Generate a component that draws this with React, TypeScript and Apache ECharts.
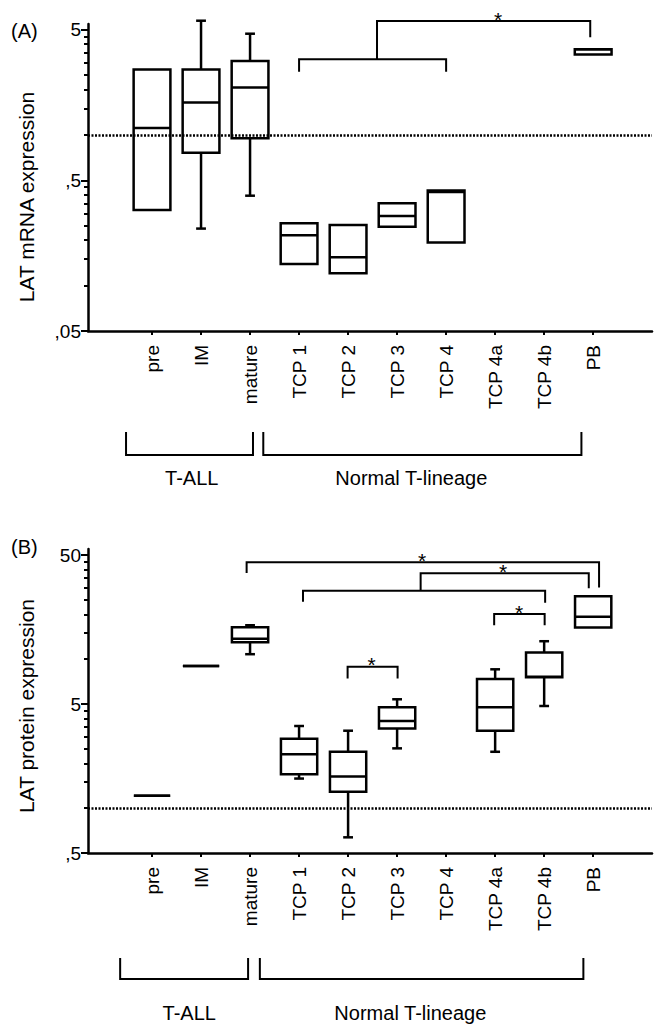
import React, { useEffect, useRef } from 'react';
import * as echarts from 'echarts';

// ---------------- DATA ----------------
const categories = ['pre', 'IM', 'mature', 'TCP 1', 'TCP 2', 'TCP 3', 'TCP 4', 'TCP 4a', 'TCP 4b', 'PB'];

// Panel A: LAT mRNA expression (five-number summaries, null = no data)
const mrnaMin = [0.318, 0.239, 0.395, 0.139, 0.121, 0.246, 0.193, null, null, 3.42];
const mrnaQ1 = [0.318, 0.762, 0.949, 0.139, 0.121, 0.246, 0.193, null, null, 3.42];
const mrnaMedian = [1.11, 1.64, 2.06, 0.216, 0.154, 0.29, 0.418, null, null, 3.7];
const mrnaQ3 = [2.72, 2.72, 3.09, 0.259, 0.252, 0.352, 0.428, null, null, 3.7];
const mrnaMax = [2.72, 5.72, 4.69, 0.259, 0.252, 0.352, 0.428, null, null, 3.7];

// Panel B: LAT protein expression
const protMin = [1.21, 9.0, 10.8, 1.58, 0.637, 2.52, null, 2.39, 4.85, 16.3];
const protQ1 = [1.21, 9.0, 13.0, 1.69, 1.29, 3.43, null, 3.31, 7.55, 16.3];
const protMedian = [1.21, 9.0, 13.7, 2.3, 1.63, 3.85, null, 4.75, 7.62, 19.3];
const protQ3 = [1.21, 9.0, 16.4, 2.92, 2.39, 4.75, null, 7.36, 11.1, 26.4];
const protMax = [1.21, 9.0, 16.9, 3.56, 3.31, 5.38, null, 8.55, 13.2, 26.4];

const cutoff = 1;

// axis ticks
const mrnaTicks = [0.05, 0.5, 5];
const mrnaTickLabels = [',05', ',5', '5'];
const mrnaMinorTicks = [0.1, 0.15, 0.2, 0.25, 0.3, 0.35, 0.4, 0.45, 1, 1.5, 2, 2.5, 3, 3.5, 4, 4.5];
const protTicks = [0.5, 5, 50];
const protTickLabels = [',5', '5', '50'];
const protMinorTicks = [1, 1.5, 2, 2.5, 3, 3.5, 4, 4.5, 10, 15, 20, 25, 30, 35, 40, 45];

// significance brackets: polylines in (category position, value)
const mrnaBrackets = [
  [[3, 2.62], [3, 3.17], [6, 3.17], [6, 2.62]],
  [[4.59, 3.17], [4.59, 5.69], [8.94, 5.69], [8.94, 4.44]],
];
const mrnaStars = [[7.06, 5.69]];

const protBrackets = [
  [[1.93, 37.9], [1.93, 44.7], [9.12, 44.7], [9.12, 30.3]],
  [[3.08, 24.3], [3.08, 28.8], [8.02, 28.8], [8.02, 23.9]],
  [[5.48, 28.8], [5.48, 37.7], [8.91, 37.7], [8.91, 29.9]],
  [[6.98, 16.9], [6.98, 20.1], [8.01, 20.1], [8.01, 16.9]],
  [[3.99, 7.43], [3.99, 8.9], [5.01, 8.9], [5.01, 7.43]],
];
const protStars = [[5.51, 44.7], [7.16, 37.7], [7.49, 20.1], [4.48, 8.9]];

// group brackets under the x axis
const groupNames = ['T-ALL', 'Normal T-lineage'];
const mrnaGroupSpans = [[-0.53, 2.06], [2.27, 8.76]];
const mrnaGroupLabelX = [0.81, 5.29];
const protGroupSpans = [[-0.65, 1.96], [2.2, 8.8]];
const protGroupLabelX = [0.76, 5.27];

// ---------------- HELPERS ----------------
const L = (v: number) => Math.log10(v);
const FONT = 'Liberation Sans, Arial, Helvetica, sans-serif';
const X_MIN = -1.306;
const X_MAX = 10.2;

function boxData(mn: any[], q1: any[], md: any[], q3: any[], mx: any[]) {
  const out: number[][] = [];
  categories.forEach((_, i) => {
    if (md[i] == null) return;
    out.push([i, L(mn[i]), L(q1[i]), L(md[i]), L(q3[i]), L(mx[i])]);
  });
  return out;
}

function boxSeries(grid: number, data: number[][], boxW: number) {
  return {
    type: 'custom',
    xAxisIndex: grid,
    yAxisIndex: grid * 2,
    silent: true,
    clip: false,
    z: 3,
    encode: { x: 0, y: [1, 2, 3, 4, 5] },
    data,
    renderItem: (params: any, api: any) => {
      const x = api.value(0);
      const pMin = api.coord([x, api.value(1)]);
      const pQ1 = api.coord([x, api.value(2)]);
      const pMd = api.coord([x, api.value(3)]);
      const pQ3 = api.coord([x, api.value(4)]);
      const pMax = api.coord([x, api.value(5)]);
      const bw = api.size([boxW, 0])[0];
      const cw = api.size([0.2, 0])[0];
      const cx = pMd[0];
      const ls = { stroke: '#000', lineWidth: 2.5 };
      const ch: any[] = [];
      if (pMax[1] < pQ3[1] - 0.5) {
        ch.push({ type: 'line', shape: { x1: cx, y1: pQ3[1], x2: cx, y2: pMax[1] }, style: ls });
        ch.push({ type: 'line', shape: { x1: cx - cw / 2, y1: pMax[1], x2: cx + cw / 2, y2: pMax[1] }, style: ls });
      }
      if (pMin[1] > pQ1[1] + 0.5) {
        ch.push({ type: 'line', shape: { x1: cx, y1: pQ1[1], x2: cx, y2: pMin[1] }, style: ls });
        ch.push({ type: 'line', shape: { x1: cx - cw / 2, y1: pMin[1], x2: cx + cw / 2, y2: pMin[1] }, style: ls });
      }
      ch.push({
        type: 'rect',
        shape: { x: cx - bw / 2, y: pQ3[1], width: bw, height: pQ1[1] - pQ3[1] },
        style: { fill: 'none', stroke: '#000', lineWidth: 2.5 },
      });
      ch.push({ type: 'line', shape: { x1: cx - bw / 2, y1: pMd[1], x2: cx + bw / 2, y2: pMd[1] }, style: ls });
      return { type: 'group', children: ch };
    },
    markLine: {
      silent: true,
      symbol: ['none', 'none'],
      label: { show: false },
      lineStyle: { color: '#000', width: 2.6, type: [2, 1.5], opacity: 1 },
      data: [{ yAxis: L(cutoff) }],
    },
  };
}

function annotationSeries(
  grid: number,
  yMin: number,
  brackets: number[][][],
  stars: number[][],
  spans: number[][],
  labelX: number[],
  off: { top: number; bottom: number; label: number }
) {
  return {
    type: 'custom',
    xAxisIndex: grid,
    yAxisIndex: grid * 2,
    silent: true,
    clip: false,
    z: 4,
    data: [[0, L(yMin)]],
    renderItem: (params: any, api: any) => {
      const ch: any[] = [];
      brackets.forEach((b) => {
        ch.push({
          type: 'polyline',
          shape: { points: b.map(([x, v]) => api.coord([x, L(v)])) },
          style: { stroke: '#000', lineWidth: 2, fill: null },
        });
      });
      stars.forEach(([x, v]) => {
        const p = api.coord([x, L(v)]);
        ch.push({
          type: 'text',
          x: p[0],
          y: p[1] - 2,
          style: { text: '*', fill: '#000', font: `21px ${FONT}`, align: 'center', verticalAlign: 'middle' },
        });
      });
      const base = api.coord([0, L(yMin)])[1];
      spans.forEach(([a, b], i) => {
        const xa = api.coord([a, L(yMin)])[0];
        const xb = api.coord([b, L(yMin)])[0];
        ch.push({
          type: 'polyline',
          shape: {
            points: [
              [xa, base + off.top],
              [xa, base + off.bottom],
              [xb, base + off.bottom],
              [xb, base + off.top],
            ],
          },
          style: { stroke: '#000', lineWidth: 2, fill: null },
        });
        const xl = api.coord([labelX[i], L(yMin)])[0];
        ch.push({
          type: 'text',
          x: xl,
          y: base + off.label,
          style: { text: groupNames[i], fill: '#000', font: `20px ${FONT}`, align: 'center', verticalAlign: 'middle' },
        });
      });
      return { type: 'group', children: ch };
    },
  };
}

function xAxis(grid: number) {
  const vals = categories.map((_, i) => i);
  return {
    type: 'value',
    gridIndex: grid,
    min: X_MIN,
    max: X_MAX,
    axisLine: { show: true, onZero: false, lineStyle: { color: '#000', width: 2.5 } },
    axisTick: { show: true, length: 4, customValues: vals, lineStyle: { color: '#000', width: 2 } },
    axisLabel: {
      show: true,
      customValues: vals,
      rotate: 90,
      margin: 14,
      color: '#000',
      fontSize: 19,
      fontFamily: FONT,
      formatter: (v: number) => categories[Math.round(v)],
    },
    splitLine: { show: false },
  };
}

function yMain(grid: number, min: number, max: number, ticks: number[], labels: string[]) {
  const tv = ticks.map(L);
  return {
    type: 'value',
    gridIndex: grid,
    position: 'left',
    min: L(min),
    max: L(max),
    axisLine: { show: true, onZero: false, lineStyle: { color: '#000', width: 2.5 } },
    axisTick: { show: true, length: 7, customValues: tv, lineStyle: { color: '#000', width: 2 } },
    axisLabel: {
      show: true,
      customValues: tv,
      margin: 7,
      color: '#000',
      fontSize: 19,
      fontFamily: FONT,
      formatter: (v: number) => {
        const i = tv.findIndex((t) => Math.abs(t - v) < 1e-6);
        return i >= 0 ? labels[i] : '';
      },
    },
    splitLine: { show: false },
  };
}

function yMinor(grid: number, min: number, max: number, minors: number[]) {
  return {
    type: 'value',
    gridIndex: grid,
    position: 'left',
    min: L(min),
    max: L(max),
    axisLine: { show: false, onZero: false },
    axisLabel: { show: false },
    axisTick: { show: true, length: 4, customValues: minors.map(L), lineStyle: { color: '#000', width: 2 } },
    splitLine: { show: false },
  };
}

export default function App() {
  const ref = useRef<HTMLDivElement>(null);
  useEffect(() => {
    if (!ref.current) return;
    const chart = echarts.init(ref.current, undefined, { renderer: 'svg' });
    const option: any = {
      animation: false,
      backgroundColor: '#fff',
      grid: [
        { left: 88, top: 24, width: 564, height: 307, containLabel: false, outerBoundsMode: 'none' },
        { left: 88, top: 549, width: 564, height: 304, containLabel: false, outerBoundsMode: 'none' },
      ],
      xAxis: [xAxis(0), xAxis(1)],
      yAxis: [
        yMain(0, 0.05, 5.44, mrnaTicks, mrnaTickLabels),
        yMinor(0, 0.05, 5.44, mrnaMinorTicks),
        yMain(1, 0.5, 54.9, protTicks, protTickLabels),
        yMinor(1, 0.5, 54.9, protMinorTicks),
      ],
      graphic: [
        { type: 'text', x: 11, y: 31, style: { text: '(A)', fill: '#000', font: `20px ${FONT}`, verticalAlign: 'middle' } },
        { type: 'text', x: 11, y: 547, style: { text: '(B)', fill: '#000', font: `20px ${FONT}`, verticalAlign: 'middle' } },
        {
          type: 'text', x: 26, y: 197, rotation: Math.PI / 2,
          style: { text: 'LAT mRNA expression', fill: '#000', font: `21px ${FONT}`, align: 'center', verticalAlign: 'middle' },
        },
        {
          type: 'text', x: 26, y: 706, rotation: Math.PI / 2,
          style: { text: 'LAT protein expression', fill: '#000', font: `21px ${FONT}`, align: 'center', verticalAlign: 'middle' },
        },
      ],
      series: [
        boxSeries(0, boxData(mrnaMin, mrnaQ1, mrnaMedian, mrnaQ3, mrnaMax), 0.75),
        boxSeries(1, boxData(protMin, protQ1, protMedian, protQ3, protMax), 0.74),
        annotationSeries(0, 0.05, mrnaBrackets, mrnaStars, mrnaGroupSpans, mrnaGroupLabelX, { top: 101, bottom: 124, label: 147 }),
        annotationSeries(1, 0.5, protBrackets, protStars, protGroupSpans, protGroupLabelX, { top: 105, bottom: 126, label: 160 }),
      ],
    };
    chart.setOption(option);
    return () => chart.dispose();
  }, []);
  return (
    <div
      ref={ref}
      style={{ position: 'fixed', left: 0, top: 0, width: 657, height: 1025, background: '#fff' }}
    />
  );
}
